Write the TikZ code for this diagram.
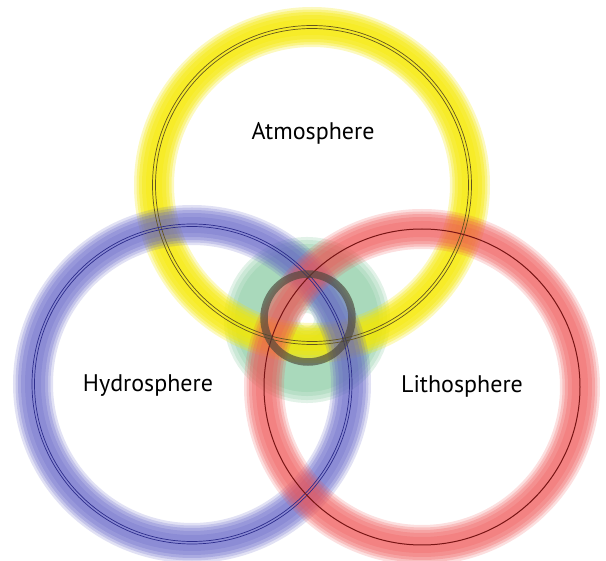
\documentclass[tikz,border=0pt]{standalone}
\usepackage{fontspec}
\setmainfont{PT Sans}
\usepackage{tikz}

\definecolor{atmoyellow}{RGB}{245,232,0}
\definecolor{hydroblue}{RGB}{98,98,198}
\definecolor{lithored}{RGB}{238,85,85}
\definecolor{biogreen}{RGB}{110,190,140}
\definecolor{atmoline}{RGB}{100,85,30}
\definecolor{hydroline}{RGB}{45,45,140}
\definecolor{litholine}{RGB}{120,20,20}
\definecolor{coreline}{RGB}{75,70,58}

\begin{document}
\begin{tikzpicture}[x=1pt, y=-1pt,
    sphere/.style={font=\fontsize{24}{28}\selectfont, text=black}]
    \useasboundingbox (0,0) rectangle (606,561);

    \coordinate (atmoC)  at (312,185);
    \coordinate (hydroC) at (192,384);
    \coordinate (lithoC) at (422,387);
    \coordinate (bioC)   at (307,320);

    % --- GREEN CORE (hole in the middle) ---
    \foreach \w/\o in {76/0.2, 70/0.2, 62/0.2, 54/0.2}
        \draw[biogreen, line width=\w pt, opacity=\o] (bioC) circle[radius=45pt];

    % --- SOFT RINGS ---
    \foreach \w/\o in {40/0.25, 35/0.3, 30/0.35, 24/0.35, 16/0.3}
        \draw[atmoyellow, line width=\w pt, opacity=\o] (atmoC) circle[radius=158pt];
    \foreach \w/\o in {40/0.25, 35/0.3, 30/0.35, 24/0.35, 16/0.3}
        \draw[hydroblue, line width=\w pt, opacity=\o*0.75] (hydroC) circle[radius=159pt];
    \foreach \w/\o in {40/0.25, 35/0.3, 30/0.35, 24/0.35, 16/0.3}
        \draw[lithored, line width=\w pt, opacity=\o*0.75] (lithoC) circle[radius=158pt];

    % --- THIN LINES ---
    \draw[atmoline, line width=0.7pt] (atmoC) circle[radius=156.5pt] (atmoC) circle[radius=159.5pt];
    \draw[hydroline, line width=0.7pt] (hydroC) circle[radius=157.5pt] (hydroC) circle[radius=160pt];
    \draw[litholine, line width=1pt] (lithoC) circle[radius=158pt];

    % --- DARK CENTRE RING ---
    \draw[coreline, line width=7.5pt, opacity=0.65] (308,318) circle[radius=44pt];

    % --- LABELS ---
    \node[sphere] (atmo)  at (313,133) {Atmosphere};
    \node[sphere] (hydro) at (148,386) {Hydrosphere};
    \node[sphere] (litho) at (462,386) {Lithosphere};
\end{tikzpicture}
\end{document}
